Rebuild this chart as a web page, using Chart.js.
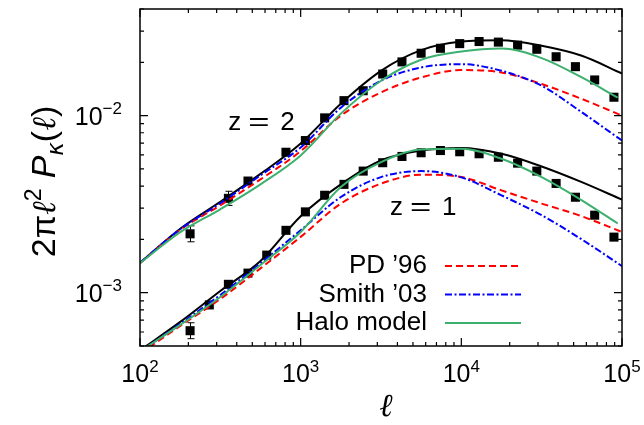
<!DOCTYPE html>
<html lang="en">
<head>
<meta charset="UTF-8">
<title>Convergence power spectrum</title>
<script src="https://cdn.jsdelivr.net/npm/chart.js"></script>
<style>
  html, body { margin: 0; padding: 0; background: #fff; }
</style>
</head>
<body>
<canvas id="pk" width="644" height="425"></canvas>
<script>
const ellCurve = [100, 178, 316, 562, 1000, 1778, 3162, 5623, 10000, 17783, 31623, 56234, 100000];
const ellHalo = [100, 178, 316, 562, 1000, 1778, 3162, 5623, 10000, 17783, 31623, 56234, 94000];

// black solid curves
const blackZ2 = [1.475e-3, 2.298e-3, 3.261e-3, 4.687e-3, 6.96e-3, 1.168e-2, 1.791e-2, 2.343e-2, 2.618e-2, 2.667e-2, 2.477e-2, 2.176e-2, 1.730e-2];
const blackZ1 = [4.72e-4, 6.84e-4, 1.022e-3, 1.508e-3, 2.702e-3, 4.089e-3, 5.58e-3, 6.353e-3, 6.564e-3, 6.087e-3, 5.164e-3, 4.212e-3, 3.354e-3];
// halo model
const haloZ2 = [1.469e-3, 2.196e-3, 2.958e-3, 4.089e-3, 5.955e-3, 1.026e-2, 1.574e-2, 2.066e-2, 2.300e-2, 2.391e-2, 2.112e-2, 1.642e-2, 1.263e-2];
const haloZ1 = [4.67e-4, 6.58e-4, 9.46e-4, 1.432e-3, 2.204e-3, 3.948e-3, 5.46e-3, 6.437e-3, 6.495e-3, 5.705e-3, 4.496e-3, 3.323e-3, 2.458e-3];
// Smith '03
const smithZ2 = [1.475e-3, 2.283e-3, 3.198e-3, 4.597e-3, 6.606e-3, 1.109e-2, 1.574e-2, 1.870e-2, 1.953e-2, 1.791e-2, 1.475e-2, 1.044e-2, 7.23e-3];
const smithZ1 = [4.64e-4, 6.67e-4, 9.71e-4, 1.464e-3, 2.253e-3, 3.469e-3, 4.496e-3, 4.86e-3, 4.478e-3, 3.546e-3, 2.738e-3, 1.998e-3, 1.413e-3];
// PD '96
const pdZ2 = [1.469e-3, 2.268e-3, 3.116e-3, 4.363e-3, 6.297e-3, 1.0e-2, 1.352e-2, 1.642e-2, 1.808e-2, 1.752e-2, 1.508e-2, 1.242e-2, 1.0e-2];
const pdZ1 = [4.52e-4, 6.5e-4, 9.21e-4, 1.372e-3, 2.066e-3, 3.185e-3, 4.126e-3, 4.637e-3, 4.496e-3, 3.784e-3, 3.185e-3, 2.702e-3, 2.2e-3];

// simulation points (black squares)
const ellSim = [205, 270, 355, 470, 615, 810, 1070, 1410, 1860, 2450, 3240, 4270, 5620, 7410, 9770, 12900, 17000, 22400, 29500, 38900, 51300, 67600, 89100];
const simZ2 = [2.15e-3, null, 3.41e-3, 4.27e-3, null, 6.21e-3, 7.23e-3, 9.71e-3, 1.215e-2, 1.382e-2, 1.717e-2, 2.01e-2, 2.25e-2, 2.40e-2, 2.55e-2, 2.62e-2, 2.60e-2, 2.50e-2, 2.37e-2, 2.15e-2, 1.89e-2, 1.59e-2, 1.27e-2];
const simZ1 = [6.1e-4, 8.53e-4, 1.115e-3, 1.29e-3, 1.63e-3, 2.25e-3, 2.86e-3, 3.55e-3, 4.09e-3, 4.86e-3, 5.42e-3, 5.88e-3, 6.17e-3, 6.35e-3, 6.25e-3, 6.09e-3, 5.82e-3, 5.39e-3, 4.86e-3, 4.14e-3, 3.46e-3, 2.74e-3, 2.06e-3];
// error bar half widths in dex (only the visible ones)
const errZ2 = [0.045, null, 0.04];
const errZ1 = [0.045];

const xTickVals = [1e2, 1e3, 1e4, 1e5];
const xTickExp = ['2', '3', '4', '5'];
const yTickVals = [1e-3, 1e-2];
const yTickExp = ['\u22123', '\u22122'];
const legendNames = ['PD \u201996', 'Smith \u201903', 'Halo model'];

const RED = '#ff0000', BLUE = '#0000ff', GREEN = 'rgb(60,176,110)';
const SANS = '"Liberation Sans", Arial, sans-serif';

function pts(xs, ys) {
    return xs.map((x, i) => ({ x: x, y: ys[i] })).filter(p => p.y != null);
}

function curve(label, xs, ys, color, dash, legend) {
    return {
        label: label, data: pts(xs, ys), borderColor: color, backgroundColor: color,
        borderWidth: 2, borderDash: dash, pointRadius: 0, cubicInterpolationMode: 'monotone',
        legend: legend
    };
}

function sims(label, ys, errs) {
    return {
        label: label, data: pts(ellSim, ys), showLine: false, pointStyle: 'rect',
        pointRadius: 6.4, pointHoverRadius: 6.4, borderWidth: 0,
        backgroundColor: '#000', borderColor: '#000', errs: errs, ys: ys
    };
}

const datasets = [
    curve(legendNames[2], ellHalo, haloZ2, GREEN, [], true),
    curve(legendNames[2] + ' z=1', ellHalo, haloZ1, GREEN, [], false),
    curve(legendNames[1], ellCurve, smithZ2, BLUE, [7, 2.5, 2, 2.5], true),
    curve(legendNames[1] + ' z=1', ellCurve, smithZ1, BLUE, [7, 2.5, 2, 2.5], false),
    curve(legendNames[0], ellCurve, pdZ2, RED, [7, 4], true),
    curve(legendNames[0] + ' z=1', ellCurve, pdZ1, RED, [7, 4], false),
    curve('z=2', ellCurve, blackZ2, '#000', [], false),
    curve('z=1', ellCurve, blackZ1, '#000', [], false),
    sims('simulation z=2', simZ2, errZ2),
    sims('simulation z=1', simZ1, errZ1)
];

// draw a run of text pieces (for superscripts / subscripts)
function runs(ctx, parts, x, y, align) {
    let w = 0;
    parts.forEach(p => { ctx.font = p.font; p.w = ctx.measureText(p.t).width + (p.gap || 0); w += p.w; });
    let cx = align === 'center' ? x - w / 2 : align === 'right' ? x - w : x;
    parts.forEach(p => { ctx.font = p.font; ctx.fillText(p.t, cx, y + (p.dy || 0)); cx += p.w; });
}

const frame = {
    id: 'frame',
    beforeDatasetsDraw(chart) {
        // error bars go under the squares
        const { ctx, scales: { x, y } } = chart;
        ctx.save();
        ctx.strokeStyle = '#000';
        ctx.lineWidth = 1;
        chart.data.datasets.forEach(ds => {
            if (!ds.errs) return;
            ds.errs.forEach((e, i) => {
                if (e == null || ds.ys[i] == null) return;
                const px = Math.round(x.getPixelForValue(ellSim[i])) + 0.5;
                const lo = y.getPixelForValue(ds.ys[i] * Math.pow(10, -e));
                const hi = y.getPixelForValue(ds.ys[i] * Math.pow(10, e));
                ctx.beginPath();
                ctx.moveTo(px, lo); ctx.lineTo(px, hi);
                ctx.moveTo(px - 3, lo); ctx.lineTo(px + 4, lo);
                ctx.moveTo(px - 3, hi); ctx.lineTo(px + 4, hi);
                ctx.stroke();
            });
        });
        ctx.restore();
    },
    afterDatasetsDraw(chart) {
        const { ctx, chartArea: a, scales: { x, y } } = chart;
        ctx.save();
        ctx.strokeStyle = '#000';
        ctx.lineWidth = 1.5;
        ctx.strokeRect(a.left, a.top, a.right - a.left, a.bottom - a.top);

        // inward ticks on all four sides
        ctx.lineWidth = 1.2;
        ctx.beginPath();
        for (let d = 2; d <= 5; d++) {
            for (let m = 1; m <= 9; m++) {
                const v = m * Math.pow(10, d);
                if (v > 1e5) break;
                const px = x.getPixelForValue(v);
                const len = m === 1 ? 8 : 4;
                ctx.moveTo(px, a.bottom); ctx.lineTo(px, a.bottom - len);
                ctx.moveTo(px, a.top); ctx.lineTo(px, a.top + len);
            }
        }
        for (let d = -4; d <= -2; d++) {
            for (let m = 1; m <= 9; m++) {
                const v = m * Math.pow(10, d);
                if (v < y.min - 1e-12 || v > y.max + 1e-12) continue;
                const py = y.getPixelForValue(v);
                const len = m === 1 ? 8 : 4;
                ctx.moveTo(a.left, py); ctx.lineTo(a.left + len, py);
                ctx.moveTo(a.right, py); ctx.lineTo(a.right - len, py);
            }
        }
        ctx.stroke();

        // tick labels
        ctx.fillStyle = '#000';
        ctx.textBaseline = 'alphabetic';
        xTickVals.forEach((v, i) => {
            runs(ctx, [
                { t: '10', font: '25px ' + SANS },
                { t: xTickExp[i], font: '17px ' + SANS, dy: -10 }
            ], x.getPixelForValue(v), a.bottom + 36, 'center');
        });
        yTickVals.forEach((v, i) => {
            runs(ctx, [
                { t: '10', font: '25px ' + SANS },
                { t: yTickExp[i], font: '17px ' + SANS, dy: -11 }
            ], a.left - 18, y.getPixelForValue(v) + 9, 'right');
        });

        // x title
        ctx.font = 'italic 32px "DejaVu Serif", serif';
        ctx.textAlign = 'center';
        ctx.fillText('\u2113', (a.left + a.right) / 2 + 5, 416);
        ctx.textAlign = 'left';

        // y title, rotated
        ctx.save();
        ctx.translate(55, (a.top + a.bottom) / 2 + 4);
        ctx.rotate(-Math.PI / 2);
        runs(ctx, [
            { t: '2', font: '34px ' + SANS },
            { t: '\u03c0', font: '34px ' + SANS },
            { t: '\u2113', font: 'italic 33px "DejaVu Serif", serif' },
            { t: '2', font: '23px ' + SANS, dy: -14, gap: 10 },
            { t: 'P', font: 'italic 34px ' + SANS },
            { t: '\u03ba', font: 'italic 23px "DejaVu Sans", sans-serif', dy: 8 },
            { t: '(', font: '34px ' + SANS },
            { t: '\u2113', font: 'italic 33px "DejaVu Serif", serif' },
            { t: ')', font: '34px ' + SANS }
        ], 0, 0, 'center');
        ctx.restore();

        // redshift labels
        [['2', 354, 8.3e-3], ['1', 3600, 2.74e-3]].forEach(([z, l, v]) => {
            const px = x.getPixelForValue(l), py = y.getPixelForValue(v);
            ctx.font = '26px ' + SANS;
            ctx.fillText('z', px, py);
            ctx.save();
            ctx.translate(px + 20, py);
            ctx.scale(1.4, 1);
            ctx.fillText('=', 0, 0);
            ctx.restore();
            ctx.fillText(z, px + 52, py);
        });

        // legend (text right, line sample left)
        chart.data.datasets.filter(ds => ds.legend).reverse().forEach((ds, i) => {
            const by = 273 + i * 28.5;
            ctx.font = '26px ' + SANS;
            ctx.textAlign = 'right';
            ctx.fillText(ds.label, 427, by);
            ctx.textAlign = 'left';
            ctx.strokeStyle = ds.borderColor;
            ctx.lineWidth = 2;
            ctx.setLineDash(ds.borderDash);
            ctx.beginPath();
            ctx.moveTo(445, by - 7);
            ctx.lineTo(521, by - 7);
            ctx.stroke();
            ctx.setLineDash([]);
        });
        ctx.restore();
    }
};

new Chart(document.getElementById('pk').getContext('2d'), {
    type: 'line',
    data: { datasets: datasets },
    options: {
        responsive: false,
        animation: false,
        events: [],
        layout: { padding: { left: 140, right: 22, top: 9, bottom: 79 } },
        scales: {
            x: { type: 'logarithmic', min: 1e2, max: 1e5, display: false },
            y: { type: 'logarithmic', min: 5e-4, max: 4e-2, display: false }
        },
        plugins: { legend: { display: false }, tooltip: { enabled: false } }
    },
    plugins: [frame]
});
</script>
</body>
</html>
